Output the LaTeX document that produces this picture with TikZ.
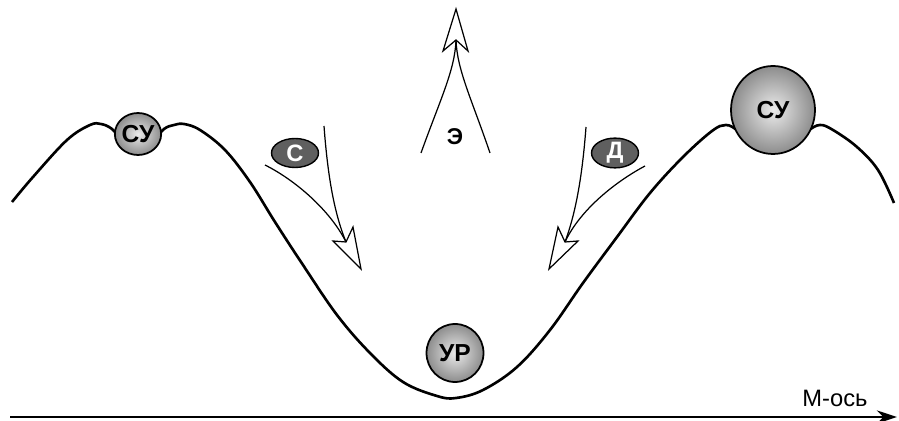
\documentclass[tikz,border=0pt]{standalone}
\usepackage{fontspec}
\setmainfont{Liberation Sans}
\usepackage{tikz}
\usetikzlibrary{shapes.geometric,arrows.meta}
\definecolor{taggray}{RGB}{95,95,95}
\definecolor{ballin}{RGB}{235,235,235}
\definecolor{ballout}{RGB}{140,140,140}

\begin{document}
\begin{tikzpicture}[
  x=0.02cm,y=-0.02cm,
  ball/.style={ellipse,draw=black,line width=1pt,inner color=ballin,outer color=ballout,inner sep=0pt,font=\fontsize{14}{16}\selectfont\bfseries},
  tag/.style={ellipse,draw=black,line width=0.8pt,fill=taggray,text=white,inner sep=0pt,minimum width=0.94cm,minimum height=0.58cm,font=\fontsize{13.5}{15}\selectfont\bfseries},
  flow/.style={line width=0.7pt},
  openhead/.style={draw=black,fill=white,line width=0.7pt,line join=miter},
  well/.style={line width=1.5pt,line join=round},
  axis/.style={line width=1.6pt,-{Stealth[length=0.4cm,width=0.26cm]}}
]
\useasboundingbox (0,0) rectangle (899,421);

% potential curve
\draw[well] plot[smooth,tension=0.6] coordinates {
  (12,202) (33,177) (67,140) (90,125) (101,124) (112,129) (124,142) (138,150)
  (152,142) (164,129) (174,125) (184,124) (200,130) (225,150) (250,182)
  (275,222) (303,265) (337,315) (370,353) (403,382) (437,396) (456,398)
  (483,390) (517,367) (550,330) (583,283) (617,237) (650,193) (683,157)
  (712,131) (726,125) (738,131) (752,145) (773,152) (794,145) (808,131)
  (820,125) (833,130) (857,147) (878,170) (894,203)};

% arrow C
\coordinate (sA) at (324,126);
\coordinate (sB) at (265,165);
\coordinate (sN) at (346,242);
\draw[flow] (sA) .. controls (328,180) and (335,215) .. (sN);
\draw[flow] (sB) .. controls (295,180) and (330,210) .. (sN);
\draw[openhead] (333,241) -- (sN) -- (353,227) -- (361,269) -- cycle;

% arrow D
\coordinate (dA) at (586,127);
\coordinate (dB) at (645,166);
\coordinate (dN) at (565,242);
\draw[flow] (dA) .. controls (582,180) and (575,215) .. (dN);
\draw[flow] (dB) .. controls (615,182) and (580,210) .. (dN);
\draw[openhead] (578,241) -- (dN) -- (558,227) -- (549,269) -- cycle;

% arrow E
\coordinate (eA) at (421,153);
\coordinate (eB) at (490,153);
\coordinate (eN) at (456,40);
\draw[flow] (eA) .. controls (440,100) and (455,70) .. (eN);
\draw[flow] (eB) .. controls (472,100) and (457,70) .. (eN);
\draw[openhead] (443,51) -- (eN) -- (468,51) -- (456,9) -- cycle;
\node[font=\fontsize{13}{15}\selectfont\bfseries] (e) at (455,137) {Э};

\node[ball,minimum width=0.9cm,minimum height=0.84cm] (su1) at (138,134) {СУ};
\node[ball,minimum width=1.68cm,minimum height=1.76cm] (su2) at (773,110) {СУ};
\node[ball,minimum width=1.14cm,minimum height=1.16cm] (ur) at (455,353) {УР};

\node[tag] (s) at (295,153) {С};
\node[tag] (d) at (615,153) {Д};

\coordinate (m0) at (10,417);
\coordinate (m1) at (897,417);
\draw[axis] (m0) -- (m1);
\node[font=\fontsize{13.5}{15}\selectfont,anchor=base] (mlab) at (835,407) {М-ось};
\end{tikzpicture}
\end{document}
